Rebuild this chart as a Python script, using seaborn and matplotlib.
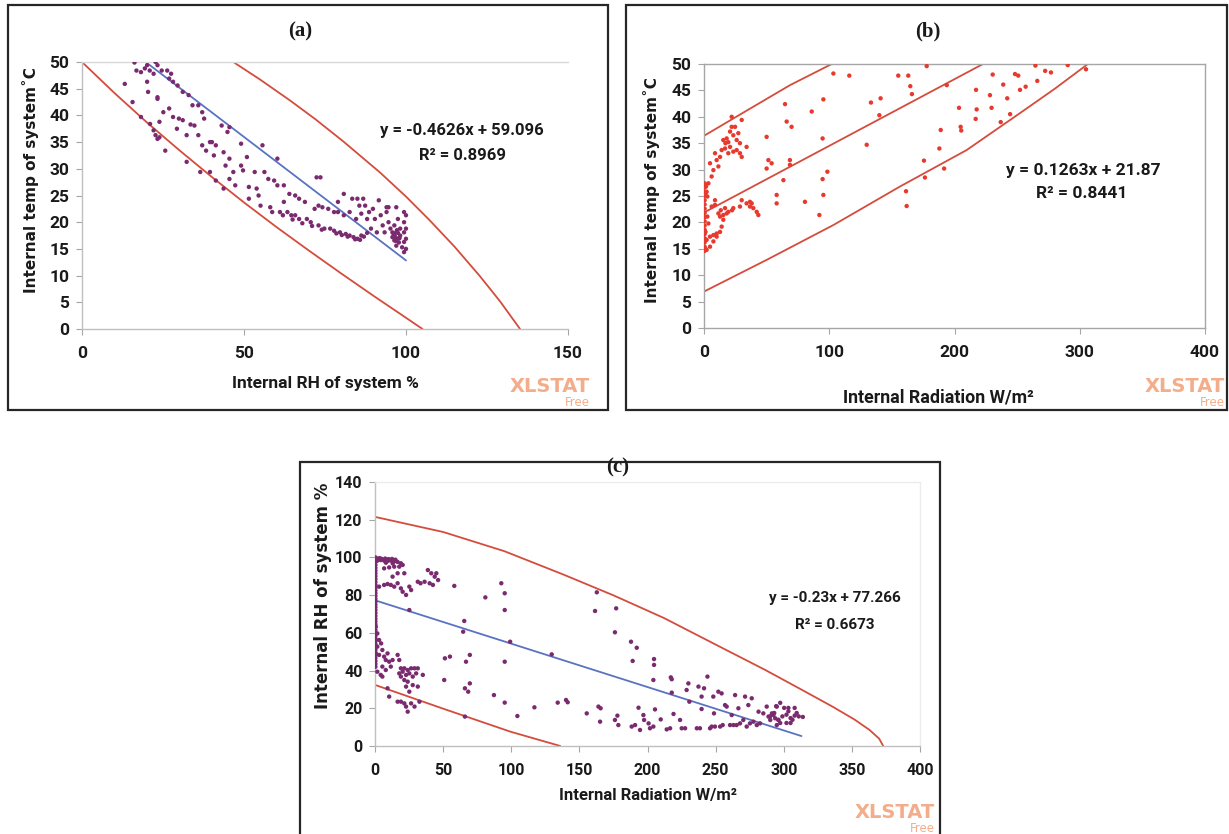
import matplotlib
matplotlib.use("Agg")
import matplotlib.pyplot as plt
import seaborn as sns
from matplotlib import font_manager
from matplotlib.patches import Rectangle

W, H = 1229, 834

# ---------------- panel (a): RH vs temperature ----------------
a_rh = [16.2, 16.8, 18.2, 19.4, 20.1, 20.9, 22.7, 23.3, 22.1, 24.6,
        26.3, 27.5, 26.9, 28.1, 29.5, 31.1, 32.9, 13.2, 15.6, 18.2,
        20.4, 20.1, 23.3, 23.3, 21.0, 22.1, 22.7, 23.3, 23.9, 25.7,
        23.9, 25.1, 26.9, 28.1, 29.9, 31.1, 29.3, 32.3, 32.3, 33.5,
        34.7, 34.1, 35.9, 37.1, 37.7, 35.9, 37.1, 38.3, 39.5, 40.1,
        41.3, 40.7, 36.5, 39.5, 41.3, 43.1, 44.9, 45.5, 43.7, 44.3,
        45.5, 46.7, 45.5, 43.7, 47.3, 49.1, 49.1, 49.7, 50.9, 51.5,
        51.5, 53.3, 53.9, 54.5, 55.1, 55.7, 56.3, 57.5, 58.1, 58.7,
        59.3, 60.3, 60.3, 61.1, 62.3, 62.3, 63.4, 64.0, 64.6, 65.8,
        65.8, 67.0, 67.0, 68.8, 69.4, 70.6, 71.8, 72.4, 73.6, 73.0,
        73.0, 74.2, 74.8, 76.0, 76.6, 77.8, 77.8, 79.0, 79.0, 79.6,
        80.8, 80.8, 81.4, 82.6, 82.6, 83.4, 83.8, 84.6, 85.0, 85.0,
        85.6, 86.2, 86.2, 86.8, 87.4, 88.0, 88.6, 89.2, 89.8, 90.4,
        91.0, 91.6, 92.2, 92.8, 93.4, 94.0, 94.0, 94.6, 95.2, 95.8,
        95.8, 96.4, 96.4, 97.0, 97.0, 97.5, 97.5, 98.2, 98.2, 98.8,
        99.4, 99.4, 99.4, 99.4, 99.4, 100.0, 100.0, 100.0, 100.0, 97.0,
        94.6, 96.5, 97.0, 97.5, 96.8, 98.0, 97.2, 96.2, 97.8, 62.0,
        65.0, 68.0, 71.0, 74.0, 78.5, 80.2, 82.0, 84.3, 85.8, 87.0,
        88.0]
a_temp = [49.9, 48.4, 48.1, 48.8, 49.4, 48.4, 50.0, 49.4, 47.8, 48.4,
          48.4, 47.8, 46.9, 46.3, 45.6, 44.4, 43.8, 45.9, 42.5, 39.7,
          44.4, 46.3, 43.4, 43.1, 38.4, 37.2, 36.3, 35.6, 35.9, 33.4,
          38.8, 40.6, 41.3, 39.7, 39.4, 39.1, 37.5, 31.3, 36.3, 38.3,
          38.1, 41.9, 41.9, 40.6, 39.4, 36.3, 34.4, 33.4, 35.0, 35.0,
          34.4, 32.5, 29.4, 29.4, 27.8, 38.1, 36.9, 37.8, 33.1, 30.6,
          31.9, 29.4, 28.1, 26.3, 26.9, 34.7, 30.6, 29.7, 32.2, 26.6,
          24.4, 29.4, 26.3, 25.0, 23.1, 34.4, 29.4, 28.1, 22.8, 21.9,
          27.8, 31.9, 26.9, 21.9, 26.9, 23.8, 21.9, 25.3, 21.3, 25.0,
          21.3, 24.4, 20.6, 23.8, 20.6, 20.0, 22.5, 28.4, 28.4, 23.1,
          19.4, 22.8, 18.8, 22.5, 18.8, 21.9, 18.4, 21.9, 23.8, 18.1,
          25.3, 21.3, 17.8, 21.9, 17.5, 24.4, 17.2, 20.6, 16.9, 24.4,
          23.1, 21.6, 17.5, 24.4, 23.1, 20.6, 21.9, 18.8, 22.5, 20.6,
          18.1, 24.1, 21.3, 19.4, 18.1, 21.9, 22.8, 20.0, 18.8, 18.1,
          17.2, 19.4, 16.6, 18.1, 15.6, 20.6, 16.9, 18.8, 17.5, 15.3,
          21.9, 20.0, 18.1, 16.3, 14.4, 21.3, 18.8, 16.9, 15.0, 22.8,
          22.8, 17.5, 17.0, 18.0, 16.5, 17.0, 18.5, 17.8, 16.2, 21.3,
          20.5, 19.8, 19.3, 18.6, 17.9, 17.6, 17.3, 16.8, 16.7, 17.3,
          18.0]
a_fit_x = [20.0, 100.0]
a_fit_y = [49.84, 12.84]
a_low_x = [0, 10, 20, 30, 40, 50, 60, 70, 80, 90, 100, 105.1]
a_low_y = [50, 44.2, 38.7, 33.5, 28.5, 23.7, 19.1, 14.7, 10.4, 6.2, 2.1, 0]
a_up_x = [46.7, 55, 64.2, 72, 80.7, 92, 100, 107.4, 115, 122.8, 129, 135.2]
a_up_y = [50, 46.7, 42.8, 39.3, 35.1, 29.3, 24.8, 20.3, 15.4, 9.9, 5.2, 0]
a_xticks = [0, 50, 100, 150]
a_yticks = [0, 5, 10, 15, 20, 25, 30, 35, 40, 45, 50]

# ---------------- panel (b): radiation vs temperature ----------------
b_col_rad = [0.5, 0.5, 0.5, 0.5, 0.5, 0.5, 0.5, 0.5, 0.5, 0.5,
             0.5, 0.5, 0.5, 0.5, 0.5, 0.5, 0.5, 1.2, 1.2, 1.2, 1.2, 1.2]
b_col_temp = [14.6, 15.4, 16.2, 17.0, 17.8, 18.6, 19.4, 20.2, 21.0, 21.8,
              22.6, 23.4, 24.2, 25.0, 25.8, 26.6, 27.4, 15.0, 16.6, 18.2, 25.4, 27.0]
b_rad = [2.1, 4.8, 7.5, 10.1, 12.8, 14.1, 15.4, 2.1, 4.8, 7.5,
         10.1, 3.5, 2.7, 6.1, 8.8, 11.5, 12.8, 15.4, 18.1, 19.4,
         22.4, 23.4, 16.8, 13.4, 28.7, 30.1, 34.0, 36.7, 38.1, 39.4,
         42.1, 43.4, 36.7, 8.8, 4.8, 7.5, 10.1, 11.5, 12.8, 8.8,
         14.1, 15.4, 17.1, 18.1, 19.4, 16.8, 20.8, 22.1, 22.1, 23.4,
         24.8, 26.1, 27.4, 28.7, 26.1, 30.1, 34.0, 20.8, 19.4, 23.4,
         28.7, 6.1, 3.5, 1.6, 2.1, 2.7, 30.1, 50.0, 51.4, 54.0,
         50.0, 64.7, 66.0, 69.9, 68.6, 68.6, 63.4, 58.0, 58.0, 80.6,
         103.3, 116.0, 155.1, 163.1, 177.8, 164.7, 166.0, 193.8, 133.3, 141.0,
         140.0, 95.3, 86.0, 94.7, 129.9, 98.5, 94.7, 95.3, 92.1, 161.3,
         161.8, 175.6, 176.4, 187.9, 189.0, 191.7, 203.6, 204.9, 205.4, 217.2,
         217.7, 216.9, 228.3, 229.6, 230.5, 238.9, 242.1, 236.9, 244.4, 248.3,
         250.9, 252.3, 256.8, 264.6, 266.1, 272.4, 277.0, 290.4, 305.0]
b_temp = [14.8, 15.4, 16.4, 17.3, 18.2, 19.2, 20.5, 16.7, 17.3, 17.6,
          17.9, 19.8, 21.1, 23.0, 23.3, 21.7, 21.1, 21.4, 21.7, 22.0,
          22.3, 22.7, 22.7, 22.3, 23.0, 24.2, 23.6, 23.0, 23.6, 22.7,
          22.0, 21.4, 23.9, 24.2, 31.2, 29.9, 31.8, 30.6, 32.4, 33.1,
          33.7, 35.6, 35.0, 35.9, 35.2, 34.0, 37.2, 38.1, 40.0, 36.5,
          38.1, 35.6, 36.9, 35.0, 33.7, 32.4, 34.3, 34.3, 33.1, 33.4,
          33.1, 28.7, 27.4, 26.8, 25.8, 24.9, 39.4, 36.2, 31.8, 31.2,
          30.2, 42.4, 39.1, 38.1, 31.8, 30.9, 28.0, 25.2, 23.6, 23.9,
          48.2, 47.8, 47.8, 47.8, 49.6, 45.8, 44.3, 46.0, 42.7, 43.5,
          40.3, 43.3, 41.0, 35.9, 34.7, 29.6, 28.2, 25.2, 21.4, 25.9,
          23.1, 31.7, 28.5, 34.0, 37.5, 30.2, 41.7, 38.1, 37.4, 45.1,
          41.4, 39.6, 44.1, 41.7, 48.0, 46.1, 43.5, 39.0, 40.5, 48.1,
          47.8, 45.1, 45.7, 49.7, 46.8, 48.7, 48.4, 49.8, 49.0]
b_fit_x = [0.0, 224.0]
b_fit_y = [21.87, 50.16]
b_up_x = [0, 35, 68.7, 102]
b_up_y = [36.4, 41.3, 46.0, 50]
b_low_x = [0, 50, 103.3, 156.5, 209.7, 252.3, 280, 306.5]
b_low_y = [6.9, 12.9, 19.5, 26.8, 33.7, 40.7, 45.3, 50]
b_xticks = [0, 100, 200, 300, 400]
b_yticks = [0, 5, 10, 15, 20, 25, 30, 35, 40, 45, 50]

# ---------------- panel (c): radiation vs RH ----------------
c_col_rad = [0.3, 0.3, 0.3, 0.3, 0.3, 0.3, 0.3, 0.3, 0.3, 0.3,
             0.3, 0.3, 0.3, 0.3, 0.3, 0.3, 0.3, 0.3, 0.3, 0.3,
             0.3, 0.3, 0.3, 0.3, 0.3, 0.3, 0.3, 0.3, 0.3, 0.3,
             0.3, 0.3, 0.3, 0.3, 0.3, 0.3, 0.3, 0.3, 0.3, 0.3]
c_col_rh = [42.0, 43.5, 45.0, 46.5, 48.0, 49.5, 51.0, 52.5, 54.0, 55.5,
            57.0, 58.5, 60.0, 61.5, 63.0, 64.5, 66.0, 67.5, 69.0, 70.5,
            72.0, 73.5, 75.0, 76.5, 78.0, 79.5, 81.0, 82.5, 84.0, 85.5,
            87.0, 88.5, 90.0, 91.5, 93.0, 94.5, 96.0, 97.5, 99.0, 100.0]
c_rad = [1.0, 2.5, 3.5, 5.0, 7.5, 10.0, 12.5, 15.0, 8.0, 13.0,
         1.7, 4.2, 6.7, 9.2, 11.6, 14.1, 16.6, 19.0, 20.3, 17.8,
         14.1, 10.4, 6.7, 21.5, 16.6, 12.9, 3.0, 6.7, 9.2, 11.6,
         14.1, 16.6, 19.0, 20.3, 25.2, 26.5, 22.8, 31.4, 33.4, 36.4,
         38.8, 41.3, 43.8, 45.0, 40.1, 42.5, 46.3, 25.2, 58.2, 65.5,
         64.7, 0.5, 1.7, 3.0, 4.5, 5.4, 1.7, 3.0, 0.5, 6.7,
         7.9, 9.2, 10.4, 12.9, 11.6, 16.6, 17.8, 5.4, 1.7, 4.2,
         7.9, 19.0, 21.5, 24.0, 26.5, 29.0, 31.4, 17.8, 20.3, 22.8,
         25.2, 27.7, 30.2, 35.1, 19.0, 21.5, 24.0, 27.7, 31.4, 22.8,
         25.2, 5.4, 9.2, 10.4, 16.6, 19.0, 21.5, 22.8, 24.0, 26.5,
         29.0, 32.6, 51.3, 55.0, 50.8, 66.0, 69.6, 66.8, 69.6, 68.4,
         66.0, 87.3, 95.2, 95.2, 95.2, 95.2, 92.7, 81.0, 99.2, 104.5,
         117.0, 129.7, 134.1, 140.2, 141.4, 155.4, 162.8, 161.5, 164.0, 165.6,
         165.2, 177.0, 176.1, 176.1, 177.9, 178.6, 187.9, 192.1, 189.1, 188.4,
         190.9, 193.4, 194.5, 197.0, 197.5, 200.8, 201.8, 204.8, 204.8, 204.3,
         205.5, 204.3, 209.7, 214.1, 216.6, 217.1, 217.8, 217.8, 219.1, 223.9,
         225.1, 227.6, 228.7, 230.0, 230.7, 236.2, 237.4, 238.5, 239.7, 239.7,
         241.5, 244.0, 245.9, 247.1, 248.3, 248.8, 249.5, 252.0, 253.3, 254.4,
         255.2, 256.9, 258.1, 260.6, 261.8, 263.1, 264.3, 265.4, 266.7, 267.9,
         270.3, 271.6, 272.8, 274.0, 275.2, 276.5, 277.7, 280.2, 281.5, 282.6,
         285.0, 287.5, 288.8, 290.1, 291.3, 292.4, 293.7, 294.9, 296.1, 294.9,
         290.0, 293.0, 296.0, 299.0, 302.0, 305.0, 308.0, 311.0, 314.0, 300.3,
         303.4, 306.4, 309.5, 297.4, 302.0, 305.0, 294.4, 297.4, 303.4, 308.0]
c_rh = [99.5, 99.3, 99.6, 99.2, 99.4, 99.1, 99.2, 98.8, 97.2, 96.8,
        98.3, 98.6, 98.3, 98.1, 98.3, 97.9, 97.6, 96.9, 96.0, 95.1,
        95.1, 94.7, 94.2, 91.6, 91.6, 89.8, 84.5, 85.4, 85.9, 85.4,
        84.5, 86.3, 83.6, 81.8, 84.5, 82.7, 80.1, 87.1, 86.3, 87.1,
        93.3, 91.6, 89.8, 91.6, 86.3, 85.4, 88.0, 72.1, 84.9, 66.3,
        60.6, 63.3, 59.7, 56.2, 54.4, 50.9, 52.7, 48.3, 49.1, 47.4,
        45.6, 49.1, 44.7, 45.6, 42.1, 48.3, 45.6, 42.1, 39.4, 37.7,
        40.3, 41.2, 41.2, 40.3, 41.2, 41.2, 41.2, 38.5, 39.4, 37.7,
        38.5, 36.8, 38.5, 37.7, 36.8, 35.0, 34.1, 32.3, 31.5, 31.5,
        28.8, 36.8, 30.6, 26.2, 23.5, 23.5, 22.6, 20.9, 18.2, 22.6,
        20.9, 23.5, 46.5, 47.4, 35.0, 30.6, 33.2, 44.7, 48.3, 28.8,
        15.6, 27.0, 23.0, 44.7, 72.1, 81.0, 86.3, 78.8, 55.3, 15.9,
        20.5, 48.6, 23.0, 24.4, 23.2, 17.3, 81.5, 71.6, 20.9, 20.0,
        12.9, 73.0, 60.3, 13.8, 16.1, 11.1, 55.3, 52.1, 45.1, 10.3,
        11.1, 20.3, 8.5, 16.4, 13.8, 12.0, 9.4, 46.1, 43.0, 35.0,
        19.4, 10.3, 14.1, 8.8, 9.4, 36.4, 35.4, 28.3, 17.0, 13.8,
        9.4, 9.4, 29.7, 33.2, 23.5, 9.4, 31.5, 9.4, 26.2, 19.6,
        30.6, 36.8, 9.4, 10.3, 26.2, 17.3, 10.3, 28.8, 10.3, 27.9,
        11.1, 21.7, 20.9, 11.1, 16.4, 11.1, 27.0, 11.1, 20.0, 12.0,
        13.8, 26.2, 10.3, 21.7, 12.0, 25.3, 12.9, 11.1, 18.2, 12.0,
        17.3, 20.9, 15.6, 13.8, 17.3, 16.4, 14.7, 20.9, 13.8, 11.1,
        15.7, 17.5, 13.9, 15.7, 16.6, 14.8, 16.1, 15.7, 15.4, 20.2,
        18.4, 13.9, 17.5, 12.2, 12.2, 12.2, 21.1, 22.9, 20.2, 20.2]
c_fit_x = [0.0, 313.0]
c_fit_y = [77.27, 5.27]
c_up_x = [0, 50, 95, 138, 175, 212, 250, 286.5, 312, 336, 352, 363, 370, 373]
c_up_y = [121.5, 113.5, 103.3, 91.0, 79.9, 67.9, 53.8, 40.3, 30.3, 20.8, 14.0, 8.5, 3.9, 0]
c_low_x = [0, 50, 99.4, 136]
c_low_y = [32.4, 19.8, 7.6, 0]
c_xticks = [0, 50, 100, 150, 200, 250, 300, 350, 400]
c_yticks = [0, 20, 40, 60, 80, 100, 120, 140]

# ---------------- style ----------------
PURPLE = "#7a2a6e"
REDDOT = "#e8392e"
REDLINE = "#d44c3c"
BLUE = "#5a72c2"
ORANGE = "#f4ad8a"

sns.set_theme(style="white")
names = {f.name for f in font_manager.fontManager.ttflist}
NARROW = "Liberation Sans Narrow" if "Liberation Sans Narrow" in names else "Roboto"
SERIF = "Liberation Serif" if "Liberation Serif" in names else "DejaVu Serif"
plt.rcParams["font.family"] = ["DejaVu Sans"]

fig = plt.figure(figsize=(W / 100, H / 100), dpi=100)
fig.patch.set_facecolor("white")


def fx(px):
    return px / W


def fy(py):
    return 1 - py / H


def make_axes(x0, x1, y0, y1):
    return fig.add_axes([fx(x0), fy(y1), (x1 - x0) / W, (y1 - y0) / H])


def style(ax, xlim, ylim, xt, yt, spines, tsize):
    ax.set_xlim(*xlim)
    ax.set_ylim(*ylim)
    ax.set_xticks(xt, labels=[str(v) for v in xt])
    ax.set_yticks(yt, labels=[str(v) for v in yt])
    for side, col in spines.items():
        if col is None:
            ax.spines[side].set_visible(False)
        else:
            ax.spines[side].set_visible(True)
            ax.spines[side].set_color(col)
            ax.spines[side].set_linewidth(1.0)
    ax.tick_params(axis="both", direction="out", length=4, width=0.8,
                   color="#a6a6a6", labelsize=tsize, labelcolor="#1a1a1a")
    ax.tick_params(axis="x", pad=8, bottom=True)
    ax.tick_params(axis="y", pad=5, left=True)
    for lab in ax.get_xticklabels() + ax.get_yticklabels():
        lab.set_fontweight("bold")
        lab.set_fontfamily([NARROW, "DejaVu Sans"])
    ax.set_facecolor("none")
    ax.grid(False)


def lines_and_points(ax, px, py, col, curves, fit):
    for cx, cy in curves:
        sns.lineplot(x=cx, y=cy, ax=ax, color=REDLINE, lw=1.3, sort=False,
                     estimator=None, legend=False, zorder=2)
    if fit is not None:
        sns.lineplot(x=fit[0], y=fit[1], ax=ax, color=BLUE, lw=1.3, sort=False,
                     estimator=None, legend=False, zorder=2)
    sns.scatterplot(x=px, y=py, ax=ax, s=10, color=col, edgecolor="none",
                    linewidth=0, legend=False, zorder=3)


# panel frames
for (x0, y0, x1, y1) in [(8, 5, 608, 410), (626, 5, 1227, 410), (300, 462, 940, 850)]:
    fig.add_artist(Rectangle((fx(x0), fy(y1)), (x1 - x0) / W, (y1 - y0) / H,
                             transform=fig.transFigure, fill=False,
                             ec="#262626", lw=1.6))

# ---- (a)
ax_a = make_axes(82, 568, 62, 329)
lines_and_points(ax_a, a_rh, a_temp, PURPLE,
                 [(a_low_x, a_low_y), (a_up_x, a_up_y)], (a_fit_x, a_fit_y))
style(ax_a, (0, 150), (0, 50), a_xticks, a_yticks,
      {"left": "#bfbfbf", "bottom": "#bfbfbf", "top": "#d9d9d9", "right": None}, 12.5)
ax_a.set_xlabel("Internal RH of system %", fontsize=12.5, fontweight="bold",
                family=[NARROW, "DejaVu Sans"], color="#1a1a1a")
ax_a.xaxis.set_label_coords(0.5, -0.176)
ax_a.set_ylabel("Internal temp of system˚C", fontsize=11, fontweight="bold",
                color="#1a1a1a")
ax_a.yaxis.set_label_coords(-0.088, 0.558)

# ---- (b)
ax_b = make_axes(704, 1205, 64, 328)
lines_and_points(ax_b, b_col_rad + b_rad, b_col_temp + b_temp, REDDOT,
                 [(b_up_x, b_up_y), (b_fit_x, b_fit_y), (b_low_x, b_low_y)], None)
style(ax_b, (0, 400), (0, 50), b_xticks, b_yticks,
      {"left": "#a6a6a6", "bottom": "#a6a6a6", "top": "#a6a6a6", "right": "#a6a6a6"}, 12.5)
ax_b.set_xlabel("Internal Radiation W/m²", fontsize=12.8, fontweight="bold",
                family=[NARROW, "DejaVu Sans"], color="#1a1a1a")
ax_b.xaxis.set_label_coords(0.467, -0.228)
ax_b.set_ylabel("Internal temp of system˚C", fontsize=11, fontweight="bold",
                color="#1a1a1a")
ax_b.yaxis.set_label_coords(-0.088, 0.523)

# ---- (c)
ax_c = make_axes(375, 920, 482, 746)
lines_and_points(ax_c, c_col_rad + c_rad, c_col_rh + c_rh, PURPLE,
                 [(c_up_x, c_up_y), (c_low_x, c_low_y)], (c_fit_x, c_fit_y))
style(ax_c, (0, 400), (0, 140), c_xticks, c_yticks,
      {"left": "#bfbfbf", "bottom": "#bfbfbf", "top": "#ececec", "right": "#ececec"}, 11.5)
ax_c.set_xlabel("Internal Radiation W/m²", fontsize=12, fontweight="bold",
                family=[NARROW, "DejaVu Sans"], color="#1a1a1a")
ax_c.xaxis.set_label_coords(0.5, -0.16)
ax_c.set_ylabel("Internal RH of system %", fontsize=12, fontweight="bold",
                color="#1a1a1a")
ax_c.yaxis.set_label_coords(-0.079, 0.568)

# titles
for txt, x, y in [("(a)", 300, 31), ("(b)", 928, 31), ("(c)", 618, 467)]:
    fig.text(fx(x), fy(y), txt, ha="center", va="center", fontsize=15,
             fontweight="bold", family=SERIF, color="#1a1a1a")

# equations
eqs = [("y = -0.4626x + 59.096", 462, 130, 12), ("R² = 0.8969", 462, 155, 12),
       ("y = 0.1263x + 21.87", 1083, 171, 12.5), ("R² = 0.8441", 1082, 194, 12.5),
       ("y = -0.23x + 77.266", 835, 598, 11), ("R² = 0.6673", 835, 625, 11)]
for txt, x, y, s in eqs:
    fig.text(fx(x), fy(y), txt, ha="center", va="center", fontsize=s,
             fontweight="bold", family=[NARROW, "DejaVu Sans"], color="#1a1a1a")

# watermarks
for xr, yb in [(590, 386), (1225, 386), (935, 812)]:
    fig.text(fx(xr), fy(yb), "XLSTAT", ha="right", va="center", fontsize=14,
             fontweight="bold", color=ORANGE)
    fig.text(fx(xr), fy(yb + 16), "Free", ha="right", va="center", fontsize=8.5,
             color=ORANGE)

fig.savefig("out.png", dpi=100, facecolor="white")
